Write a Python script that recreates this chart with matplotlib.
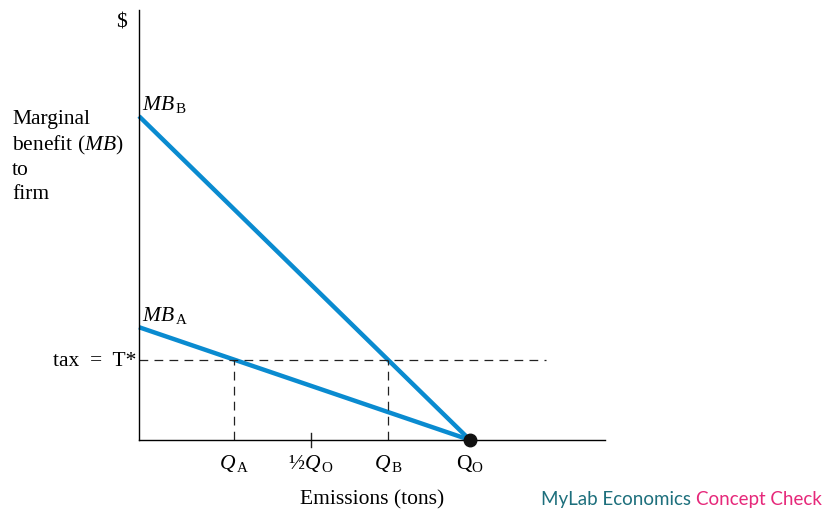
import matplotlib
matplotlib.use("Agg")
import matplotlib.pyplot as plt

plt.rcParams["font.family"] = ["Liberation Serif", "DejaVu Serif"]
plt.rcParams["mathtext.fontset"] = "custom"
plt.rcParams["mathtext.rm"] = "Liberation Serif"
plt.rcParams["mathtext.it"] = "Liberation Serif:italic"

# data (arbitrary units)
q_o = 10.0
q_a = 2.87
q_b = 7.52
half_q_o = 5.2
tax = 2.42
mb_a_intercept = 3.41
mb_b_intercept = 9.79
x_max = 14.08
y_max = 13.0
dash_end = 12.3

blue = "#0a8bd0"

fig = plt.figure(figsize=(8.22, 5.14), dpi=100)
ax = fig.add_axes([139 / 822, 74 / 514, 466 / 822, 430 / 514])
ax.set_xlim(0, x_max)
ax.set_ylim(0, y_max)
for s in ["top", "right"]:
    ax.spines[s].set_visible(False)
ax.spines["left"].set_linewidth(1.0)
ax.spines["bottom"].set_linewidth(1.0)
ax.set_xticks([])
ax.set_yticks([])
ax.patch.set_alpha(0)

# MB lines
ax.plot([0, q_o], [mb_b_intercept, 0], color=blue, lw=3.2, solid_capstyle="butt", clip_on=False)
ax.plot([0, q_o], [mb_a_intercept, 0], color=blue, lw=3.2, solid_capstyle="butt", clip_on=False)
ax.plot([q_o], [0], "o", color="#111111", ms=9, clip_on=False, zorder=5)

# tax line and drop lines
dash = dict(color="#222222", lw=0.9, dashes=(7, 5))
ax.plot([0, dash_end], [tax, tax], **dash)
ax.plot([q_a, q_a], [0, tax], **dash)
ax.plot([q_b, q_b], [0, tax], **dash)

# tick at half Q_O
ax.plot([half_q_o, half_q_o], [-0.2, 0.2], color="#222222", lw=1.0, clip_on=False)

fs = 15.5
ax.text(q_a, -0.4, r"$Q_{\,\mathrm{A}}$", ha="center", va="top", fontsize=fs)
ax.text(half_q_o, -0.4, r"½$Q_{\,\mathrm{O}}$", ha="center", va="top", fontsize=fs)
ax.text(q_b, -0.4, r"$Q_{\,\mathrm{B}}$", ha="center", va="top", fontsize=fs)
ax.text(q_o, -0.4, r"$\mathrm{Q}_{\mathrm{O}}$", ha="center", va="top", fontsize=fs)

ax.text(0.1, mb_b_intercept + 0.05, r"$MB_{\,\mathrm{B}}$", ha="left", va="bottom", fontsize=fs)
ax.text(0.1, mb_a_intercept + 0.05, r"$MB_{\,\mathrm{A}}$", ha="left", va="bottom", fontsize=fs)

fig.text(136 / 822, 1 - 362 / 514, "tax  =  T*", ha="right", va="center", fontsize=fs)
fig.text(127 / 822, 1 - 23 / 514, "$", ha="right", va="center", fontsize=fs)
fig.text(12 / 822, 1 - 110 / 514, "Marginal\nbenefit ($MB$)\nto\nfirm",
         ha="left", va="top", fontsize=fs, linespacing=1.31)
fig.text(372 / 822, 1 - 500 / 514, "Emissions (tons)", ha="center", va="center", fontsize=fs)

t1 = fig.text(541 / 822, 1 - 500 / 514, "MyLab Economics ", ha="left", va="center",
              fontsize=13.5, family="Lato", color="#1d6f7c")
fig.canvas.draw()
bb = t1.get_window_extent()
fig.text(bb.x1 / 822, 1 - 500 / 514, "Concept Check", ha="left", va="center",
         fontsize=13.5, family="Lato", color="#e6287a")

fig.savefig("out.png", dpi=100)
